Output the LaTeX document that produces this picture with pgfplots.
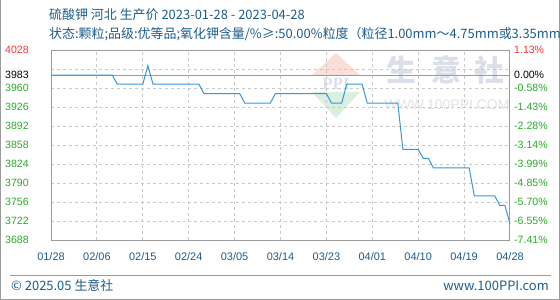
\documentclass[border=0pt]{standalone}
\usepackage{pgfplots}
\pgfplotsset{compat=1.18}
\usepackage{fontspec}
\setmainfont{Liberation Sans}
\newfontfamily\cjk{Noto Sans CJK SC}
\newfontfamily\wmserif{Liberation Serif}
\definecolor{ttl}{RGB}{28,92,140}
\definecolor{grn}{RGB}{40,170,40}
\definecolor{rd}{RGB}{245,50,50}
\definecolor{lineblue}{RGB}{52,152,219}
\definecolor{frame}{RGB}{155,155,155}
\definecolor{gridc}{RGB}{200,200,200}
\definecolor{wm}{RGB}{218,223,234}
\definecolor{wmred}{RGB}{250,222,216}
\definecolor{wmgreen}{RGB}{218,240,222}
\begin{document}
\begin{tikzpicture}
\useasboundingbox (0,0) rectangle (560bp,-300bp);
\begin{scope}
\clip (0,0) rectangle (560bp,-300bp);
% outer border
\draw[frame, line width=1bp] (0.5bp,0bp) -- (0.5bp,-299.5bp) -- (559.5bp,-299.5bp) -- (559.5bp,0bp);
% titles
\node[anchor=west, inner sep=0pt, text=ttl, font=\cjk\fontsize{13}{13}\selectfont] at (49bp,-15bp) {硫酸钾 河北 生产价 2023-01-28 - 2023-04-28};
\node[anchor=west, inner sep=0pt, text=ttl, font=\cjk\fontsize{13}{13}\selectfont] at (49bp,-34bp) {状态:颗粒;品级:优等品;氧化钾含量/\%≥:50.00\%粒度（粒径1.00mm～4.75mm或3.35mm）};
% watermark
\fill[wmred] (336bp,-53bp) -- (360bp,-75bp) -- (312bp,-75bp) -- cycle;
\fill[wmgreen] (312bp,-92bp) -- (360bp,-92bp) -- (336bp,-118bp) -- cycle;
\node[inner sep=0pt, text=wm, font=\wmserif\bfseries\fontsize{17}{17}\selectfont] at (336bp,-84bp) {PPI};
\node[inner sep=0pt, text=wm, font=\cjk\bfseries\fontsize{30}{30}\selectfont] at (401bp,-70bp) {生};
\node[inner sep=0pt, text=wm, font=\cjk\bfseries\fontsize{30}{30}\selectfont] at (446bp,-70bp) {意};
\node[inner sep=0pt, text=wm, font=\cjk\bfseries\fontsize{30}{30}\selectfont] at (489bp,-70bp) {社};
\node[inner sep=0pt, text=gray!22, font=\fontsize{14}{14}\selectfont] at (447bp,-105bp) {WWW.100PPI.COM};
% footer
\draw[frame, line width=1bp] (10bp,-275.7bp) -- (551bp,-275.7bp);
\node[anchor=west, inner sep=0pt, text=ttl, font=\cjk\fontsize{13}{13}\selectfont] at (11bp,-286bp) {© 2025.05 生意社};
\node[anchor=east, inner sep=0pt, text=ttl, font=\cjk\fontsize{13}{13}\selectfont] at (549bp,-286bp) {www.100PPI.com};
\end{scope}
\begin{axis}[
  at={(51bp,-240bp)}, anchor=south west,
  scale only axis, width=459bp, height=190bp,
  xmin=0, xmax=90, ymin=3688, ymax=4028,
  xtick={0,9,...,90},
  xticklabels={01/28,02/06,02/15,02/24,03/05,03/14,03/23,04/01,04/10,04/19,04/28},
  ytick={3688,3722,3756,3790,3824,3858,3892,3926,3960,3983,3994,4028},
  yticklabels={\textcolor{grn}{3688},\textcolor{grn}{3722},\textcolor{grn}{3756},\textcolor{grn}{3790},\textcolor{grn}{3824},\textcolor{grn}{3858},\textcolor{grn}{3892},\textcolor{grn}{3926},\textcolor{grn}{3960},\textcolor{black}{3983},{},\textcolor{rd}{4028}},
  xmajorgrids, ymajorgrids,
  major grid style={dashed, color=gridc, line width=1bp},
  axis line style={color=frame, line width=1bp},
  major tick length=0pt,
  tick style={draw=none},
  xticklabel style={font=\fontsize{11}{11}\selectfont, text=ttl, inner sep=0pt, anchor=north, yshift=-12bp},
  yticklabel style={font=\fontsize{10.6}{11}\selectfont, inner sep=0pt, anchor=west, xshift=-46bp},
  clip=false,
]
\addplot[frame, line width=1bp] coordinates {(0,3983) (90,3983)};
\addplot[lineblue, line width=1bp] table {
x y
0 3983
12 3983
13 3967
18 3967
19 4000
20 3967
29 3967
30 3950
37 3950
38 3933
43 3933
44 3950
54 3950
55 3933
57 3933
58 3967
61 3967
62 3933
68 3933
69 3850
72 3850
73 3834
74 3834
75 3817
82 3817
83 3767
87 3767
88 3750
89 3750
90 3717
};
\end{axis}
\begin{axis}[
  at={(51bp,-240bp)}, anchor=south west,
  scale only axis, width=459bp, height=190bp,
  xmin=0, xmax=90, ymin=3688, ymax=4028,
  hide x axis,
  axis y line*=right,
  axis line style={draw=none},
  ytick={3688,3722,3756,3790,3824,3858,3892,3926,3960,3983,4028},
  yticklabels={\textcolor{grn}{-7.41\%},\textcolor{grn}{-6.55\%},\textcolor{grn}{-5.70\%},\textcolor{grn}{-4.85\%},\textcolor{grn}{-3.99\%},\textcolor{grn}{-3.14\%},\textcolor{grn}{-2.28\%},\textcolor{grn}{-1.43\%},\textcolor{grn}{-0.58\%},\textcolor{black}{0.00\%},\textcolor{rd}{1.13\%}},
  major tick length=0pt,
  tick style={draw=none},
  yticklabel style={font=\fontsize{10.6}{11}\selectfont, inner sep=0pt, anchor=west, xshift=4bp},
]
\addplot[draw=none] coordinates {(0,3983) (90,3983)};
\end{axis}
\end{tikzpicture}
\end{document}
